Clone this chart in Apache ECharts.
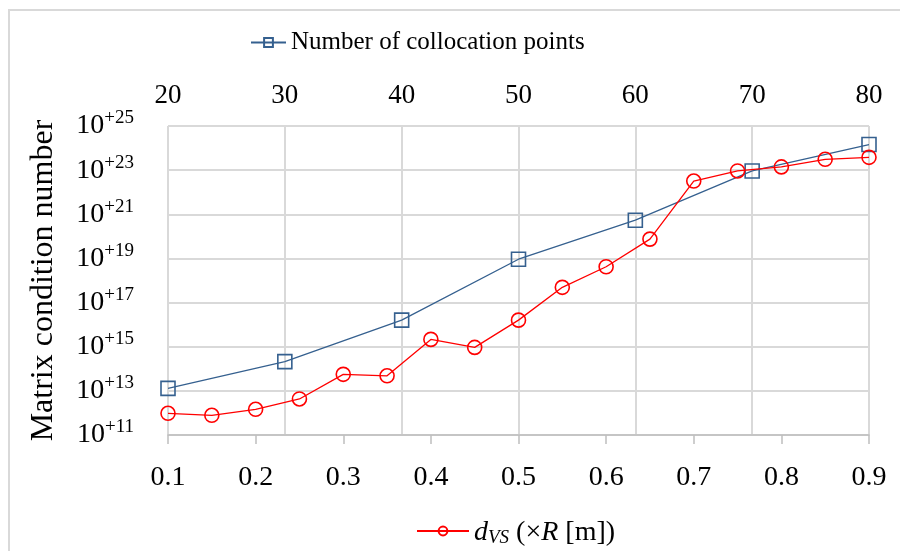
<!DOCTYPE html>
<html>
<head>
<meta charset="utf-8">
<title>Matrix condition number</title>
<script src="https://cdn.jsdelivr.net/npm/echarts@6/dist/echarts.min.js"></script>
<style>
  html, body { margin: 0; padding: 0; background: #fff; }
  #chart { width: 900px; height: 551px; }
</style>
</head>
<body>
<div id="chart"></div>
<script>
// Distance of the virtual sources (bottom axis, x R [m])
var dvsValues = [0.1, 0.15, 0.2, 0.25, 0.3, 0.35, 0.4, 0.45, 0.5, 0.55, 0.6, 0.65, 0.7, 0.75, 0.8, 0.85, 0.9];
var condByDvs = [9.6e11, 7.8e11, 1.46e12, 4.3e12, 5.6e13, 4.8e13, 2.15e15, 9.3e14, 1.6e16, 4.9e17, 4.2e18, 7.5e19, 3.2e22, 9.2e22, 1.4e23, 3.1e23, 3.8e23];

// Number of collocation points (top axis)
var pointCounts = [20, 30, 40, 50, 60, 70, 80];
var condByPoints = [1.3e13, 2.1e14, 1.6e16, 9.2e18, 5.4e20, 9.2e22, 1.45e24];

// Y tick labels (exponents of 10, every second decade)
var yExponents = ['+11', '+13', '+15', '+17', '+19', '+21', '+23', '+25'];

var serif = '"Liberation Serif", "Times New Roman", serif';
var gridColor = '#D9D9D9';
var axisColor = '#BFBFBF';
var blue = '#35608F';
var red = '#FF0000';

function pairs(xs, ys) {
  return xs.map(function (x, i) { return [x, ys[i]]; });
}

var chart = echarts.init(document.getElementById('chart'), null, { renderer: 'canvas' });

chart.setOption({
  backgroundColor: '#fff',
  animation: false,
  graphic: [{
    type: 'rect',
    shape: { x: 9, y: 10, width: 900, height: 560 },
    style: { fill: 'none', stroke: '#D9D9D9', lineWidth: 2 },
    silent: true, z: -1
  }],
  grid: { left: 168, right: 31, top: 126, bottom: 116, containLabel: false },
  legend: [{
    data: ['Number of collocation points'],
    left: 250, top: 30, padding: 0,
    itemWidth: 35, itemHeight: 11, itemGap: 0,
    textStyle: { fontFamily: serif, fontSize: 25, color: '#000', padding: [0, 0, 0, 0] }
  }, {
    data: ['dVS'],
    left: 416, top: 519, padding: 0,
    itemWidth: 52, itemHeight: 11,
    formatter: function () {
      return '{i|d}{sub|VS}{n| (\u00D7}{i|R}{n| [m])}';
    },
    textStyle: {
      fontFamily: serif, fontSize: 28, color: '#000', padding: [0, 0, 0, 0],
      rich: {
        i: { fontFamily: serif, fontSize: 28, fontStyle: 'italic', color: '#000', verticalAlign: 'bottom', lineHeight: 32 },
        sub: { fontFamily: serif, fontSize: 19, fontStyle: 'italic', color: '#000', verticalAlign: 'bottom', lineHeight: 23 },
        n: { fontFamily: serif, fontSize: 28, color: '#000', verticalAlign: 'bottom', lineHeight: 32 }
      }
    }
  }],
  xAxis: [{
    type: 'value', position: 'bottom',
    min: 0.1, max: 0.9, interval: 0.1,
    axisLine: { show: true, lineStyle: { color: axisColor, width: 1.5 } },
    axisTick: { show: true, inside: false, length: 9, lineStyle: { color: axisColor, width: 1.5 } },
    splitLine: { show: false },
    axisLabel: {
      margin: 29, fontFamily: serif, fontSize: 28, color: '#000',
      formatter: function (v) { return (Math.round(v * 10) / 10).toFixed(1); }
    }
  }, {
    type: 'value', position: 'top',
    min: 20, max: 80, interval: 10,
    axisLine: { show: false },
    axisTick: { show: false },
    splitLine: { show: true, lineStyle: { color: gridColor, width: 2 } },
    axisLabel: { margin: 17, fontFamily: serif, fontSize: 27, color: '#000' }
  }],
  yAxis: [{
    // logarithmic scale carrying the data
    type: 'log', logBase: 10, min: 1e11, max: 1e25, position: 'left',
    axisLine: { show: false }, axisTick: { show: false },
    axisLabel: { show: false }, splitLine: { show: false }
  }, {
    // one band per two decades: grid lines and labels
    type: 'value', min: 0, max: yExponents.length - 1, interval: 1, position: 'left',
    name: 'Matrix condition number',
    nameLocation: 'middle', nameGap: 108, nameRotate: 90,
    nameTextStyle: { fontFamily: serif, fontSize: 32, color: '#000' },
    axisLine: { show: false }, axisTick: { show: false },
    splitLine: { show: true, lineStyle: { color: gridColor, width: 2 } },
    axisLabel: {
      margin: 34,
      formatter: function (v) { return '{b|10}{s|' + yExponents[Math.round(v)] + '}'; },
      rich: {
        b: { fontFamily: serif, fontSize: 28, color: '#000', verticalAlign: 'bottom', lineHeight: 28 },
        s: { fontFamily: serif, fontSize: 19, color: '#000', verticalAlign: 'bottom', lineHeight: 19, padding: [0, 0, 12, 0] }
      }
    }
  }],
  series: [{
    name: 'Number of collocation points',
    type: 'line', xAxisIndex: 1, yAxisIndex: 0,
    data: pairs(pointCounts, condByPoints),
    symbol: 'rect', symbolSize: 14,
    lineStyle: { color: blue, width: 1.3 },
    itemStyle: { color: 'rgba(0,0,0,0)', borderColor: blue, borderWidth: 1.6 },
    z: 3
  }, {
    name: 'dVS',
    type: 'line', xAxisIndex: 0, yAxisIndex: 0,
    data: pairs(dvsValues, condByDvs),
    symbol: 'circle', symbolSize: 14,
    lineStyle: { color: red, width: 1.3 },
    itemStyle: { color: 'rgba(0,0,0,0)', borderColor: red, borderWidth: 1.6 },
    z: 4
  }]
});
</script>
</body>
</html>
